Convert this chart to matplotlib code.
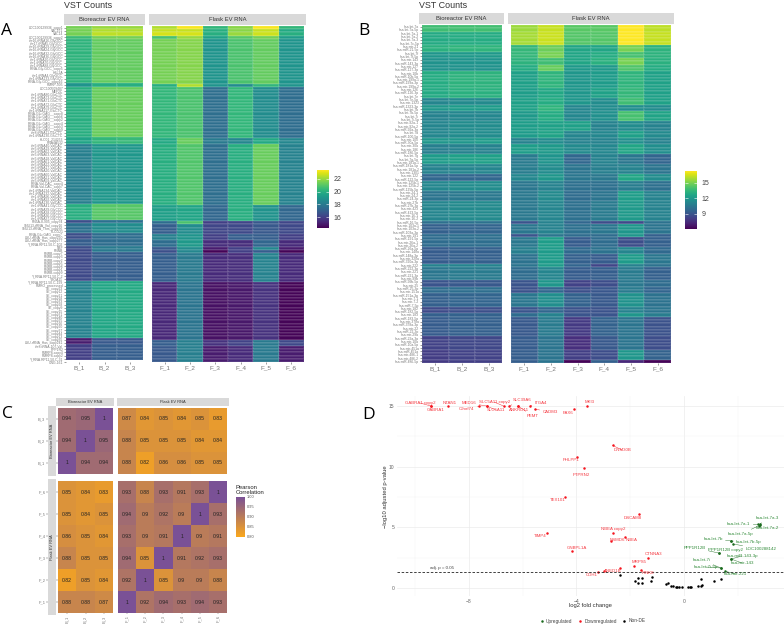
import numpy as np
import matplotlib
matplotlib.use('Agg')
import matplotlib.pyplot as plt
from matplotlib.colors import LinearSegmentedColormap, Normalize
from matplotlib.cm import ScalarMappable
from matplotlib.lines import Line2D

plt.rcParams['font.family'] = ['Liberation Sans', 'DejaVu Sans']

W, H = 784, 630

# panel A, blocks of rows with equal colour: how many rows, then the sample values
samples_bio = ["B_1", "B_2", "B_3"]
samples_flask = ["F_1", "F_2", "F_3", "F_4", "F_5", "F_6"]

a_counts = [1, 1, 1, 1, 14, 1, 16, 2, 19, 5, 1, 3, 2, 2, 1, 1, 9, 18, 2, 5]
a_bio = [
    [21.5, 22.0, 22.0], [21.5, 22.3, 22.3], [21.5, 22.5, 22.5], [20.5, 21.5, 21.5],
    [20.2, 21.2, 21.2], [19.0, 20.0, 20.0], [20.0, 21.3, 21.3], [19.6, 20.3, 20.4],
    [18.2, 19.1, 19.1], [20.0, 21.0, 21.0], [16.5, 17.7, 17.7], [17.7, 18.7, 18.7],
    [16.5, 17.5, 17.5], [17.0, 17.5, 17.5], [16.5, 18.0, 18.0], [16.3, 18.0, 18.0],
    [16.3, 17.0, 17.0], [18.3, 19.7, 19.8], [15.0, 16.8, 16.8], [16.0, 17.0, 17.0],
]
a_flask = [
    [22.3, 23.3, 20.3, 21.8, 23.3, 20.3], [22.6, 22.6, 20.0, 21.8, 22.6, 19.8],
    [22.8, 22.8, 20.0, 22.0, 22.7, 20.0], [20.8, 22.0, 19.5, 21.0, 21.5, 19.3],
    [21.5, 21.7, 19.0, 20.8, 21.2, 19.0], [20.0, 22.3, 19.0, 18.7, 20.3, 19.0],
    [20.3, 20.8, 17.6, 20.3, 18.7, 17.5], [19.8, 21.3, 18.0, 18.5, 19.8, 18.5],
    [20.0, 20.9, 17.6, 20.0, 21.3, 18.3], [19.4, 19.6, 17.3, 20.0, 18.9, 17.3],
    [17.5, 20.8, 16.0, 16.2, 16.8, 16.2], [17.0, 18.7, 16.2, 16.3, 16.8, 16.3],
    [18.2, 19.0, 16.0, 17.0, 17.0, 16.0], [17.5, 19.2, 15.5, 15.5, 17.3, 15.4],
    [16.8, 18.7, 15.0, 16.0, 18.5, 15.0], [16.5, 18.5, 14.4, 16.0, 17.0, 14.4],
    [17.0, 18.0, 15.4, 15.5, 18.3, 15.4], [15.3, 17.8, 14.7, 14.9, 15.6, 14.4],
    [17.0, 18.2, 15.6, 16.1, 18.0, 16.3], [16.8, 18.2, 15.0, 15.4, 18.0, 15.0],
]
a_labels = (
    ["LOC100129936_copy1", "VAC151", "VAC14", "LOC100129936_copy2"]
    + ["chr16.tRNA16-GlyGCC", "chr17.tRNA5-GlyGCC", "chr16.tRNA29-GlyGCC", "chr16.tRNA24-GlyGCC",
       "chr16.tRNA32-GlyGCC", "chr16.tRNA36-GlyGCC", "chr1.tRNA20-GlyGCC", "chr1.tRNA70-GlyGCC",
       "chr1.tRNA88-GlyGCC", "tRNA-Gly-GCC_copy5", "HSL2A", "chr1.tRNA4-GlyGCC",
       "chr1.tRNA133-GlyGCC", "tRNA-Gly-GCC_copy16"]
    + ["RMRP-905", "LOC100509487", "MEF2C"]
    + [f"chr1.tRNA{n}-GluCTC" for n in [80, 73, 71, 72, 79, 117]]
    + [f"tRNA-Glu-GAG__copy{n}" for n in [8, 6, 2, 4, 3, 9]]
    + ["chr8.tRNA11-GluCTC", "chr1.tRNA130-GluCTC", "KLC01_214253", "RNA4A532"]
    + [f"chr5.tRNA{n}-ValCAC" for n in [40, 19, 62, 63, 18, 61, 22, 17, 20, 60, 21, 59]]
    + ["tRNA-Val-CAC_copy4", "tRNA-Val-CAC_copy7", "chr1.tRNA134-ValCAC", "chr1.tRNA132-ValCAC", "chr1.tRNA96-ValCAC"]
    + ["chr1.tRNA92-ValCAC", "chr1.tRNA130-ValCAC"]
    + [f"chr1.tRNA{n}-GlyCCC" for n in [41, 39, 38, 36, 37]]
    + ["RN5A-8-905_copy34", "SNU13-tRNA_Val_copy16", "SNU13-tRNA_Thrs_copy36", "PLCG21"]
    + ["tRNA-Glu-GAG_copy7", "LSU-rRNA_Has_copy290", "LSU-rRNA_Has_copy277", "Y_RNA.RP11-50.C-102", "NBF", "RNNB"]
    + [f"RNRB-copy{n}" for n in [7, 3, 2, 5, 8, 1, 9]]
    + ["Y_RNA.RP11-50.C-2", "YBOA11", "Y_RNA.RP11-50.C-199", "RMRO_processed"]
    + [f"SE_copy{n}" for n in [23, 12, 21, 18, 33, 28, 9, 15, 31, 40, 25, 16, 20, 37, 44, 13, 35]]
    + ["LSU-rRNA_Has_copy241", "chr8.tRNA-107-Val", "PPP1R2", "RMRP8-copy4", "RMRP8-copy2", "Y_RNA.RP11-50.C-31", "GNG-161"]
)

# panel B
b_counts = [2, 4, 2, 2, 2, 2, 5, 3, 2, 2, 3, 3, 2, 2, 3, 3, 3, 2,
            3, 3, 6, 1, 3, 1, 3, 2, 3, 1, 4, 2, 2, 4, 2, 1, 6, 4, 3, 1]
b_bio = [
    [13.8, 13.9, 13.9], [12.9, 13.0, 13.0], [13.2, 13.4, 13.4], [12.0, 12.1, 12.1],
    [11.8, 11.9, 11.9], [11.8, 11.8, 11.8], [13.0, 13.3, 13.3], [12.9, 13.2, 13.2],
    [11.2, 11.4, 11.4], [12.0, 12.2, 12.2], [11.0, 11.3, 11.3], [11.2, 11.5, 11.5],
    [11.3, 11.5, 11.5], [12.0, 12.0, 12.2], [10.9, 11.0, 11.0], [12.2, 12.4, 12.4],
    [11.0, 11.2, 11.2], [9.8, 9.8, 9.8],
    [11.3, 11.5, 11.5], [10.4, 10.6, 10.6], [11.2, 11.4, 11.4], [10.2, 10.3, 10.3],
    [9.5, 9.7, 9.7], [10.0, 10.2, 10.2], [10.0, 10.1, 10.1], [9.3, 9.5, 9.5],
    [9.3, 9.5, 9.5], [11.0, 11.1, 11.1], [10.5, 10.7, 10.7], [9.0, 9.2, 9.2],
    [10.0, 10.1, 10.1], [9.5, 9.7, 9.7], [8.6, 8.8, 8.8], [9.5, 9.6, 9.6],
    [9.3, 9.5, 9.5], [8.3, 8.5, 8.5], [8.1, 8.3, 8.3], [8.0, 8.2, 8.2],
]
b_flask = [
    [15.6, 16.3, 14.4, 14.4, 17.3, 16.2], [15.8, 16.4, 14.3, 14.3, 17.3, 16.3],
    [13.5, 14.8, 12.7, 12.7, 15.0, 13.3], [13.5, 15.0, 12.7, 13.0, 14.0, 13.3],
    [13.3, 13.8, 12.7, 13.2, 15.0, 13.2], [13.0, 14.7, 12.1, 12.1, 14.2, 13.0],
    [12.4, 13.4, 12.0, 12.2, 13.4, 12.5], [12.3, 12.8, 12.0, 12.5, 13.5, 12.4],
    [12.4, 13.0, 12.0, 11.5, 13.8, 12.5], [12.5, 13.4, 11.2, 11.5, 11.6, 11.5],
    [12.1, 13.0, 11.3, 11.7, 14.0, 12.6], [12.3, 12.5, 12.4, 11.0, 11.5, 11.0],
    [12.2, 12.6, 11.2, 11.3, 12.4, 11.4], [11.0, 11.5, 11.0, 11.0, 11.7, 11.0],
    [12.3, 12.1, 11.4, 11.3, 12.7, 11.6], [10.7, 11.9, 9.8, 11.0, 10.5, 9.7],
    [10.8, 11.5, 10.4, 10.9, 11.0, 10.4], [11.3, 12.0, 10.5, 10.6, 12.7, 11.5],
    [10.5, 11.0, 10.2, 10.2, 10.8, 10.2], [10.6, 11.4, 10.0, 10.4, 12.3, 11.0],
    [10.6, 11.2, 10.2, 10.7, 12.1, 11.0], [9.0, 11.0, 9.8, 8.7, 8.6, 10.3],
    [10.5, 11.0, 10.2, 10.5, 12.0, 10.4], [9.0, 10.5, 10.0, 10.0, 12.0, 9.5],
    [10.6, 12.3, 9.3, 10.0, 8.7, 9.5], [10.9, 12.2, 9.9, 10.3, 11.2, 9.9],
    [10.3, 12.2, 9.5, 9.3, 12.2, 10.5], [10.4, 12.2, 9.7, 8.4, 11.0, 10.3],
    [10.0, 11.2, 9.3, 9.4, 10.7, 9.5], [9.0, 12.0, 8.3, 8.7, 10.6, 10.0],
    [8.9, 9.8, 8.8, 9.1, 10.7, 9.7], [10.5, 11.6, 9.6, 9.2, 11.8, 10.3],
    [9.0, 9.8, 8.9, 8.9, 11.0, 10.4], [10.0, 11.0, 9.0, 9.0, 12.0, 10.8],
    [9.2, 10.7, 8.0, 9.6, 10.4, 8.9], [9.3, 10.4, 7.6, 9.2, 10.4, 8.7],
    [9.4, 10.4, 8.2, 8.7, 12.0, 9.6], [9.4, 10.4, 6.2, 9.5, 7.4, 6.2],
]
b_labels = [
    "hsa-let-7a", "hsa-let-7a-5p", "hsa-let-7a-1", "hsa-let-7a-2", "hsa-let-7a-3", "hsa-let-7c-5p",
    "hsa-mir-21", "hsa-miR-21-5p", "hsa-let-7f", "hsa-let-7f-5p", "hsa-mir-143", "hsa-miR-143-3p",
    "hsa-mir-127", "hsa-miR-127-3p", "hsa-mir-10b", "hsa-miR-10b-5p", "hsa-mir-199a-1", "hsa-miR-199a-3p",
    "hsa-mir-199a-2", "hsa-mir-126", "hsa-miR-126-3p", "hsa-let-7e", "hsa-let-7e-5p", "hsa-mir-1323",
    "hsa-miR-1323-3p", "hsa-let-7b", "hsa-let-7b-5p", "hsa-let-7i", "hsa-let-7i-5p", "hsa-mir-92a-1",
    "hsa-mir-92a-2", "hsa-miR-92a-3p", "hsa-let-7d", "hsa-miR-100-5p", "hsa-mir-100", "hsa-miR-30a-5p",
    "hsa-mir-30a", "hsa-mir-186", "hsa-miR-186-5p", "hsa-let-7g", "hsa-let-7g-5p", "hsa-mir-181a-1",
    "hsa-miR-181a-5p", "hsa-mir-181a-2", "hsa-mir-1301", "hsa-mir-122", "hsa-miR-122-5p", "hsa-mir-125b-1",
    "hsa-mir-125b-2", "hsa-miR-125b-5p", "hsa-mir-24-1", "hsa-mir-24-2", "hsa-miR-24-3p", "hsa-mir-27b",
    "hsa-miR-27b-3p", "hsa-mir-423", "hsa-miR-423-5p", "hsa-mir-16-1", "hsa-mir-16-2", "hsa-miR-16-5p",
    "hsa-mir-103a-1", "hsa-mir-103a-2", "hsa-miR-103a-3p", "hsa-mir-191", "hsa-miR-191-5p", "hsa-mir-26a-1",
    "hsa-mir-26a-2", "hsa-miR-26a-5p", "hsa-mir-148a", "hsa-miR-148a-3p", "hsa-mir-320a", "hsa-miR-320a-3p",
    "hsa-mir-222", "hsa-miR-222-3p", "hsa-mir-221", "hsa-miR-221-3p", "hsa-mir-99b", "hsa-miR-99b-5p",
    "hsa-mir-25", "hsa-miR-25-3p", "hsa-mir-151a", "hsa-miR-151a-3p", "hsa-mir-7-1", "hsa-mir-7-2",
    "hsa-miR-7-5p", "hsa-mir-182", "hsa-miR-182-5p", "hsa-mir-183", "hsa-miR-183-5p", "hsa-mir-378a",
    "hsa-miR-378a-3p", "hsa-mir-22", "hsa-miR-22-3p", "hsa-mir-29a", "hsa-miR-29a-3p", "hsa-mir-10a",
    "hsa-miR-10a-5p", "hsa-mir-451a", "hsa-miR-451a", "hsa-mir-486-1", "hsa-mir-486-2", "hsa-miR-486-5p",
]

# panel C, rows from top to bottom
corr_bio_labels = ["B_3", "B_2", "B_1"]
corr_flask_labels = ["F_6", "F_5", "F_4", "F_3", "F_2", "F_1"]
corr_tl = [[0.94, 0.95, 1], [0.94, 1, 0.95], [1, 0.94, 0.94]]
corr_tr = [[0.87, 0.84, 0.85, 0.84, 0.85, 0.83],
           [0.88, 0.85, 0.85, 0.85, 0.84, 0.84],
           [0.88, 0.82, 0.86, 0.86, 0.85, 0.85]]
corr_bl = [[0.85, 0.84, 0.83], [0.85, 0.84, 0.85], [0.86, 0.85, 0.84],
           [0.88, 0.85, 0.85], [0.82, 0.85, 0.84], [0.88, 0.88, 0.87]]
corr_br = [[0.93, 0.88, 0.93, 0.91, 0.93, 1],
           [0.94, 0.9, 0.92, 0.9, 1, 0.93],
           [0.93, 0.9, 0.91, 1, 0.9, 0.91],
           [0.94, 0.85, 1, 0.91, 0.92, 0.93],
           [0.92, 1, 0.85, 0.9, 0.9, 0.88],
           [1, 0.92, 0.94, 0.93, 0.94, 0.93]]

# panel D
down_names = ["GABRA1 copy2", "GABRA1", "NTAN1", "MED16", "C9orf74", "SLC5A11", "SLC5A11 copy2", "SLC39A6",
              "ANKRD11", "PEMT", "ITGA4", "CADM3", "PAX6", "MKI3", "PHLPP1", "DNM30B", "PTPRN2", "TEX101",
              "TIMP4", "GNBPL1A", "DSCAM8", "NBEA copy2", "NSMD6", "NBEA", "CTNNA3", "MRPS5", "", "ANED1B",
              "PINK8", "CDH1"]
down_x = [-9.4, -9.4, -8.77, -7.33, -7.62, -7.33, -6.7, -6.5, -6.17, -6.17, -5.73, -5.54, -4.09, -3.6,
          -3.98, -2.65, -3.72, -4.42, -5.09, -4.16, -1.67, -2.64, -2.7, -2.19, -1.34, -1.86, -2.38, -2.97,
          -1.6, -3.2]
down_y = [15, 15, 15, 15, 15, 15, 15, 15, 15, 15, 15, 14.75, 14.75, 15, 10.8, 11.75, 9.9, 7.5, 4.53, 3.05,
          6.1, 4.53, 3.9, 4.2, 2.47, 1.81, 1.65, 1.4, 1.48, 1.35]
down_label_x = [-9.81, -9.22, -8.7, -7.99, -8.07, -6.99, -7.06, -6.02, -6.13, -5.61, -5.32, -4.98, -4.31, -3.49,
                -4.2, -2.3, -3.83, -4.68, -5.35, -3.98, -1.9, -2.64, -2.49, -1.93, -1.12, -1.67, -2.38, -2.64,
                -1.34, -3.42]
down_label_y = [15.25, 14.67, 15.25, 15.25, 14.76, 14.67, 15.33, 15.5, 14.67, 14.18, 15.25, 14.51, 14.43, 15.33,
                10.55, 11.38, 9.32, 7.25, 4.29, 3.3, 5.77, 4.86, 3.96, 3.96, 2.8, 2.14, 1.65, 1.4, 1.24, 1.07]

up_names = ["hsa-let-7a-3", "hsa-let-7a-1", "hsa-let-7a-2", "hsa-let-7a-5p", "hsa-let-7b", "hsa-let-7b-5p",
            "LOC100288142", "PPP1R12B", "PPP1R12B copy2", "hsa-miR-143-3p", "hsa-mir-143", "hsa-let-7i",
            "hsa-let-7i-5p", "hsa-mir-221"]
up_x = [2.83, 2.75, 2.83, 2.8, 1.75, 1.75, 1.82, 1.3, 1.3, 1.75, 1.75, 1.37, 1.37, 1.52]
up_y = [5.28, 5.25, 5.2, 5.15, 3.88, 3.88, 3.63, 2.88, 2.88, 2.39, 2.39, 1.65, 1.65, 1.4]
up_label_x = [3.12, 2.04, 3.12, 2.12, 1.08, 2.42, 2.86, 0.41, 1.56, 2.16, 2.16, 0.67, 0.82, 1.9]
up_label_y = [5.77, 5.28, 4.95, 4.45, 4.04, 3.79, 3.22, 3.3, 3.13, 2.64, 2.06, 2.31, 1.73, 1.15]

other_x = [-2.38, -1.82, -1.7, -1.56, -1.7, -1.56, -1.24, -1.18, -0.67, -0.6, -0.48, -0.41, -0.3, -0.25,
           -0.17, -0.09, 0.16, 0.22, 0.28, 0.51, 0.63, 0.68, 0.62, 1.12, 1.39]
other_y = [1.07, 0.55, 0.82, 0.82, 0.44, 0.42, 0.6, 0.9, 0.3, 0.4, 0.2, 0.15, 0.1, 0.1, 0.055, 0.055,
           0.055, 0.08, 0.1, 0.15, 0.2, 0.25, 0.74, 0.58, 0.74]

fig = plt.figure(figsize=(W / 100, H / 100), dpi=100, facecolor='white')


def px_axes(x0, y0, x1, y1):
    return fig.add_axes([x0 / W, 1 - y1 / H, (x1 - x0) / W, (y1 - y0) / H])


def strip(x0, y0, x1, y1, text, size, rotation=0):
    ax = px_axes(x0, y0, x1, y1)
    ax.set_facecolor('#D9D9D9')
    ax.set_xticks([])
    ax.set_yticks([])
    for s in ax.spines.values():
        s.set_visible(False)
    ax.set_zorder(5)
    ax.text(0.5, 0.5, text, transform=ax.transAxes, ha='center', va='center',
            fontsize=size, color='#333333', rotation=rotation)


def expand(rows, counts):
    return np.repeat(np.array(rows, dtype=float), counts, axis=0)


def heat_panel(box, values, names, vmin, vmax, labels=None):
    ax = px_axes(*box)
    ax.pcolormesh(values, cmap='viridis', vmin=vmin, vmax=vmax,
                  edgecolors=(1, 1, 1, 0.09), linewidth=0.25)
    ax.invert_yaxis()
    for s in ax.spines.values():
        s.set_visible(False)
    ax.set_xticks(np.arange(len(names)) + 0.5, names, fontsize=4.6, color='#777777')
    ax.tick_params(axis='x', length=1.2, width=0.4, pad=1.5, color='#555555')
    if labels is None:
        ax.set_yticks([])
    else:
        ax.set_yticks(np.arange(len(labels)) + 0.5, labels, fontsize=2.4, color='#7A7A7A')
        ax.tick_params(axis='y', length=1.2, width=0.4, pad=0.8, color='#555555')
    return ax


def value_legend(box, vmin, vmax, ticks):
    cax = px_axes(*box)
    sm = ScalarMappable(norm=Normalize(vmin, vmax), cmap='viridis')
    cb = fig.colorbar(sm, cax=cax, ticks=ticks)
    cb.outline.set_visible(False)
    cax.tick_params(length=2, width=0.4, color='white', direction='in', left=True, right=True,
                    labelsize=5, labelcolor='#444444', pad=3)


# panel A
heat_panel((66, 26, 143, 362), expand(a_bio, a_counts), samples_bio, 14.3, 23.4, a_labels)
heat_panel((152, 26, 304, 362), expand(a_flask, a_counts), samples_flask, 14.3, 23.4)
strip(64, 14, 145, 25, "Bioreactor EV RNA", 4.2)
strip(149, 14, 306, 25, "Flask EV RNA", 4.2)
value_legend((317, 170, 329, 228), 14.3, 23.4, [16, 18, 20, 22])
fig.text(64 / W, 1 - 6 / H, "VST Counts", fontsize=6.4, color='#333333', va='center')
fig.text(1 / W, 1 - 31 / H, "A", fontsize=12.5, color='black', va='center', family='Open Sans')

# panel B
heat_panel((422, 25, 502, 363), expand(b_bio, b_counts), samples_bio, 6.1, 17.3, b_labels)
heat_panel((511, 25, 671, 363), expand(b_flask, b_counts), samples_flask, 6.1, 17.3)
strip(419, 13, 504, 24, "Bioreactor EV RNA", 4.2)
strip(508, 13, 674, 24, "Flask EV RNA", 4.2)
value_legend((685, 171, 697, 229), 6.1, 17.3, [9, 12, 15])
fig.text(419 / W, 1 - 5 / H, "VST Counts", fontsize=6.4, color='#333333', va='center')
fig.text(358 / W, 1 - 31 / H, "B", fontsize=12.5, color='black', va='center', family='Open Sans')

# panel C
corr_cmap = LinearSegmentedColormap.from_list('corr', ['#FBA81C', '#7A5196'])


def corr_panel(box, values, xnames=None, ynames=None):
    ax = px_axes(*box)
    values = np.array(values, dtype=float)
    ax.pcolormesh(values, cmap=corr_cmap, vmin=0.8, vmax=1.0)
    ax.invert_yaxis()
    for s in ax.spines.values():
        s.set_visible(False)
    for i in range(values.shape[0]):
        for j in range(values.shape[1]):
            ax.text(j + 0.5, i + 0.5, f"{values[i, j]:g}", ha='center', va='center',
                    fontsize=3.7, color='#222222')
    if xnames:
        ax.set_xticks(np.arange(len(xnames)) + 0.5, xnames, fontsize=2.9, color='#777777', rotation=90)
        ax.tick_params(axis='x', length=1, width=0.3, pad=0.8, color='#555555')
    else:
        ax.set_xticks([])
    if ynames:
        ax.set_yticks(np.arange(len(ynames)) + 0.5, ynames, fontsize=2.9, color='#777777')
        ax.tick_params(axis='y', length=8.3, width=0.3, pad=0.8, color='#555555')
    else:
        ax.set_yticks([])


corr_panel((58, 408, 113, 474), corr_tl, ynames=corr_bio_labels)
corr_panel((118, 408, 227, 474), corr_tr)
corr_panel((58, 481, 113, 613), corr_bl, xnames=corr_bio_labels[::-1], ynames=corr_flask_labels)
corr_panel((118, 481, 227, 613), corr_br, xnames=corr_flask_labels[::-1])
strip(56, 398, 114, 406, "Bioreactor EV RNA", 2.9)
strip(117, 398, 229, 406, "Flask EV RNA", 2.9)
strip(48, 406, 56, 476, "Bioreactor EV RNA", 2.9, rotation=90)
strip(48, 479, 56, 615, "Flask EV RNA", 2.9, rotation=90)

cax = px_axes(236, 497, 245, 537)
cb = fig.colorbar(ScalarMappable(norm=Normalize(0.8, 1.0), cmap=corr_cmap), cax=cax,
                  ticks=[0.8, 0.85, 0.9, 0.95, 1.0], format='%.2f')
cb.outline.set_visible(False)
cax.tick_params(length=0, labelsize=2.9, labelcolor='#555555', pad=1.5)
fig.text(236 / W, 1 - 490 / H, "Pearson\nCorrelation", fontsize=4.2, color='#222222', va='center', linespacing=1.0)
fig.text(2 / W, 1 - 414 / H, "C", fontsize=12.5, color='black', va='center', family='Open Sans')

# panel D
ax = px_axes(397, 396, 784, 596)
ax.set_xlim(-10.67, 3.72)
ax.set_ylim(-0.66, 15.83)
for s in ax.spines.values():
    s.set_visible(False)
ax.set_xticks([-8, -4, 0], ["\u22128", "\u22124", "0"], fontsize=3.6, color='#666666')
ax.set_xticks([-10, -6, -2, 2], minor=True)
ax.set_yticks([0, 5, 10, 15], ["0", "5", "10", "15"], fontsize=3.6, color='#666666')
ax.set_yticks([2.5, 7.5, 12.5], minor=True)
ax.tick_params(which='both', length=0, pad=2)
ax.grid(which='major', color='#EBEBEB', linewidth=0.5)
ax.grid(which='minor', color='#F2F2F2', linewidth=0.3)
ax.set_axisbelow(True)
ax.axhline(1.3, color='#222222', linewidth=0.6, linestyle=(0, (3, 2)))
ax.text(-9.0, 1.65, "adj. p = 0.05", fontsize=3.2, color='#444444', ha='center', va='center')


def label_points(names, xs, ys, lxs, lys, text_color, line_color):
    for name, px, py, lx, ly in zip(names, xs, ys, lxs, lys):
        # ggrepel only draws a segment when the label sits away from its point
        far = np.hypot((px - lx) * 26.9, (py - ly) * 12.13) > 9.5
        arrow = dict(arrowstyle='-', color=line_color, lw=0.3, shrinkA=0, shrinkB=0) if far else None
        ax.annotate(name, (px, py), (lx, ly), fontsize=3.2, color=text_color, ha='center', va='center',
                    arrowprops=arrow)


ax.scatter(other_x, other_y, s=3.2, color='black', linewidths=0)
ax.scatter(down_x, down_y, s=3.2, color='#F5141E', linewidths=0)
ax.scatter(up_x, up_y, s=3.2, color='#1B6B1F', linewidths=0)
label_points(down_names, down_x, down_y, down_label_x, down_label_y, '#F53A42', '#F5141E')
label_points(up_names, up_x, up_y, up_label_x, up_label_y, '#2F8A37', '#1B6B1F')

fig.text(386 / W, 1 - 497 / H, "\u2212log10 adjusted p-value", fontsize=4.2, color='#333333',
         rotation=90, ha='center', va='center')
fig.text(590 / W, 1 - 606 / H, "log2 fold change", fontsize=4.2, color='#333333', ha='center', va='center')

handles = [Line2D([], [], marker='o', linestyle='', markersize=1.8, color=c, markeredgewidth=0)
           for c in ['#1B6B1F', '#F5141E', 'black']]
fig.legend(handles, ["Upregulated", "Downregulated", "Non-DE"], loc='center', ncol=3,
           bbox_to_anchor=(592 / W, 1 - 621 / H), frameon=False, fontsize=3.4, labelcolor='#444444',
           columnspacing=0.9, handletextpad=0.2, handlelength=1.4)
fig.text(362 / W, 1 - 415 / H, "D", fontsize=12.5, color='black', va='center', family='Open Sans')

fig.savefig('out.png', dpi=100)
